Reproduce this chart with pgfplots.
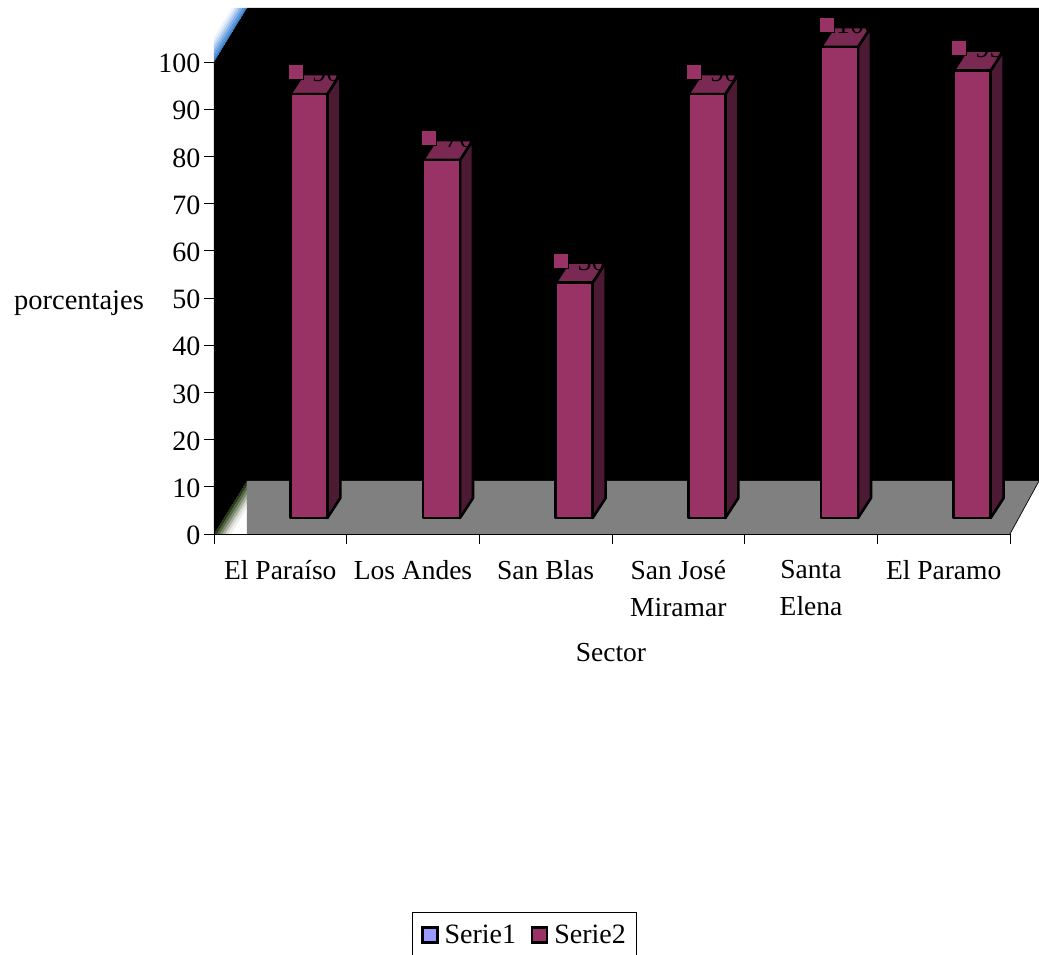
\documentclass[border=0pt]{standalone}
\usepackage{pgfplots}
\pgfplotsset{compat=1.18}
\usepackage{pgfplotstable}
\usepackage{fontspec}
\setmainfont{Liberation Serif}

\definecolor{barfront}{RGB}{153,51,102}
\definecolor{bartop}{RGB}{122,41,82}
\definecolor{barside}{RGB}{77,26,51}
\definecolor{floorgrey}{RGB}{128,128,128}
\definecolor{wallblue}{RGB}{66,135,215}
\definecolor{wallgreen}{RGB}{40,60,20}
\definecolor{legendblue}{RGB}{153,153,255}

% Percentage per sector; sectors sit at the middle of each unit interval
\pgfplotstableread{
pos  value
0.5  90
1.5  76
2.5  50
3.5  90
4.5  100
5.5  95
}\sectordata

\begin{document}
\begin{tikzpicture}
\path[use as bounding box] (-214pt,-421pt) rectangle (825pt,534pt);
\begin{scope}[x=1pt,y=1pt]
  % Side wall shading at the upper corner
  \begin{scope}
    \clip (0,472) -- (33,526) -- (0,526) -- cycle;
    \foreach \i/\c in {0/100,1/85,2/65,3/45,4/25,5/10}{
      \fill[wallblue!\c!white] ({-2.5*\i},472) -- ({33-2.5*\i},526) -- ({33-2.5*\i-2.7},526) -- ({-2.5*\i-2.7},472) -- cycle;
    }
  \end{scope}
  % Side wall shading at the lower corner
  \begin{scope}
    \clip (0,0) -- (33,53) -- (33,0) -- cycle;
    \foreach \i/\c in {0/100,1/80,2/60,3/40,4/20,5/8}{
      \fill[wallgreen!\c!white] ({2.8*\i},0) -- ({33+2.8*\i},53) -- ({33+2.8*\i+3},53) -- ({2.8*\i+3},0) -- cycle;
    }
  \end{scope}
  % Back and side wall
  \fill[black] (0,0) -- (0,472) -- (33,526) -- (825,526) -- (825,53) -- (33,53) -- cycle;
  % Floor
  \fill[floorgrey] (33,53) -- (825,53) -- (796,0) -- (33,0) -- cycle;
  \draw[black,line width=0.7pt] (825,53) -- (796,0);
\end{scope}

\begin{axis}[
  at={(0,0)}, anchor=south west,
  scale only axis, width=796pt, height=472pt,
  clip=false,
  xmin=0, xmax=6, ymin=0, ymax=100,
  axis x line=bottom, axis y line=left,
  axis line style={-, black, line width=0.9pt},
  xtick={0,1,...,6},
  x tick label as interval,
  xticklabels={El Paraíso,Los Andes,San Blas,{San José\\Miramar},{Santa\\Elena},El Paramo},
  xticklabel style={align=center, font=\fontsize{27.5}{37}\selectfont, anchor=north, yshift=-13pt},
  ytick={0,10,...,100},
  yticklabel style={font=\fontsize{28}{30}\selectfont, yshift=-1.5pt, /pgf/number format/assume math mode=true},
  tick align=outside,
  major tick length=10pt,
  tick style={black, line width=0.9pt},
  legend columns=2,
  legend style={at={(0.2487,-0.8008)}, anchor=north west, draw=black, line width=0.8pt,
    font=\fontsize{28}{30}\selectfont, inner xsep=9pt, inner ysep=11pt,
    /tikz/every even column/.style={column sep=13pt}},
]
  % Three-faced bars, each drawn from its own value
  \addplot[forget plot, only marks, mark=none, scatter,
    visualization depends on={y\as\barvalue},
    scatter/@pre marker code/.code={%
      \pgfmathsetmacro{\h}{\barvalue*4.71}%
      \begin{scope}[x=1pt,y=1pt,line width=2.6pt,draw=black,line join=round]
        \pgfmathsetmacro{\t}{16-\barvalue*0.01}%
        \filldraw[fill=barside] (47,\t) -- (60,\t+20) -- (60,\t+20-\h) -- (47,\t-\h) -- cycle;
        \filldraw[fill=bartop] (10,\t) -- (23,\t+20) -- (60,\t+20) -- (47,\t) -- cycle;
        \filldraw[fill=barfront] (10,\t) rectangle (47,\t-\h);
      \end{scope}%
    },
    scatter/@post marker code/.code={},
  ] table[x=pos,y=value] {\sectordata};

  % Value labels, black over the top faces
  \addplot[forget plot, only marks, mark=none, nodes near coords,
    every node near coord/.style={anchor=base, black, xshift=46pt, yshift=28pt,
      font=\fontsize{28}{30}\selectfont, inner sep=0pt, /pgf/number format/assume math mode=true},
  ] table[x=pos,y=value] {\sectordata};

  % Square markers above the bars
  \addplot[forget plot, only marks, mark=square*, mark size=7.5pt,
    mark options={fill=barfront, draw=none},
    every mark/.append style={xshift=15.5pt, yshift=37.5pt},
  ] table[x=pos,y=value] {\sectordata};

  \addlegendimage{legend image code/.code={
    \draw[fill=legendblue, draw=black, line width=2.4pt] (0pt,-7pt) rectangle (15pt,8pt);
    \path[draw=none,fill=none] (0pt,0pt) -- (20pt,0pt);}}
  \addlegendentry{Serie1}
  \addlegendimage{legend image code/.code={
    \draw[fill=barfront, draw=black, line width=2.4pt] (0pt,-7pt) rectangle (15pt,8pt);
    \path[draw=none,fill=none] (0pt,0pt) -- (20pt,0pt);}}
  \addlegendentry{Serie2}
\end{axis}

\node[font=\fontsize{28.5}{30}\selectfont] at (-135pt,231pt) {porcentajes};
\node[font=\fontsize{27.5}{30}\selectfont] at (397pt,-119pt) {Sector};
\end{tikzpicture}
\end{document}
